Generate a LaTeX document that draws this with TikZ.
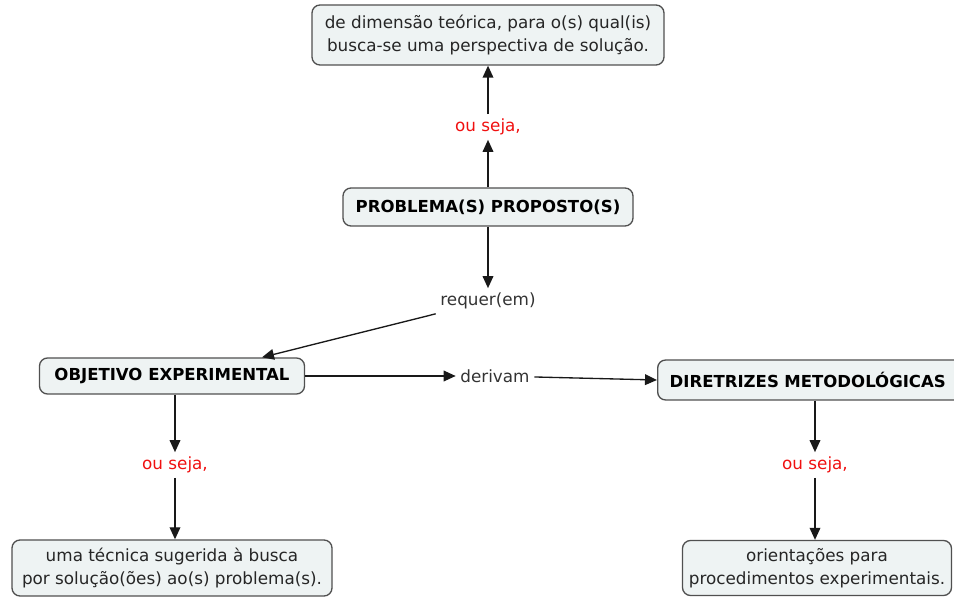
\documentclass[tikz,border=0pt]{standalone}
\usepackage{fontspec}
\setmainfont{DejaVu Sans}
\usetikzlibrary{arrows.meta}
\definecolor{boxfill}{HTML}{EEF3F3}
\definecolor{boxline}{HTML}{505050}
\definecolor{linkred}{HTML}{F01010}
\begin{document}
\begin{tikzpicture}[x=0.75pt,y=-0.75pt,
    concept/.style={draw=boxline, line width=1pt, fill=boxfill, rounded corners=6pt, align=center, text=black!85, font=\fontsize{12.6}{17.5}\selectfont, inner sep=4pt},
    bigconcept/.style={concept, text=black, font=\fontsize{12.4}{15}\selectfont\bfseries},
    linkred/.style={text=linkred, font=\fontsize{12.6}{15}\selectfont},
    linkword/.style={text=black!80, font=\fontsize{12.6}{15}\selectfont},
    conn/.style={-{Triangle[length=9pt,width=8pt]}, line width=1pt, black!90}]
    \useasboundingbox (0,0) rectangle (954,598);
    \node[concept, minimum width=352*0.75pt, minimum height=60*0.75pt] (teoria) at (488,35) {de dimensão teórica, para o(s) qual(is)\\busca-se uma perspectiva de solução.};
    \node[bigconcept, minimum width=290*0.75pt, minimum height=38*0.75pt] (problema) at (488,207) {PROBLEMA(S) PROPOSTO(S)};
    \node[linkred] (ouseja1) at (488,127) {ou seja,};
    \node[linkword] (requer) at (488,301) {requer(em)};
    \node[bigconcept, minimum width=265*0.75pt, minimum height=36*0.75pt] (objetivo) at (172,376) {OBJETIVO EXPERIMENTAL};
    \node[linkword] (derivam) at (495,376) {derivam};
    \node[bigconcept, minimum height=40*0.75pt, inner xsep=9pt, text width=222pt, align=left, anchor=west] (diretrizes) at (657,380) {DIRETRIZES METODOLÓGICAS};
    \node[linkred] (ouseja2) at (175,465) {ou seja,};
    \node[linkred] (ouseja3) at (815,465) {ou seja,};
    \node[concept, minimum width=320*0.75pt, minimum height=56*0.75pt] (tecnica) at (172,568) {uma técnica sugerida à busca\\por solução(ões) ao(s) problema(s).};
    \node[concept, minimum width=269*0.75pt, minimum height=55*0.75pt] (orientacoes) at (817,568) {orientações para\\procedimentos experimentais.};
    % ligacoes
    \draw[conn] (problema) -- (ouseja1);
    \draw[conn] (ouseja1) -- (teoria);
    \draw[conn] (problema) -- (requer);
    \draw[conn] (requer.south west) -- (objetivo.north east -| 262,0);
    \draw[conn] (objetivo) -- (derivam);
    \draw[conn] (derivam) -- (diretrizes.west);
    \draw[conn] (objetivo.south -| ouseja2) -- (ouseja2);
    \draw[conn] (ouseja2) -- (tecnica.north -| ouseja2);
    \draw[conn] (diretrizes.south -| ouseja3) -- (ouseja3);
    \draw[conn] (ouseja3) -- (orientacoes.north -| ouseja3);
\end{tikzpicture}
\end{document}
